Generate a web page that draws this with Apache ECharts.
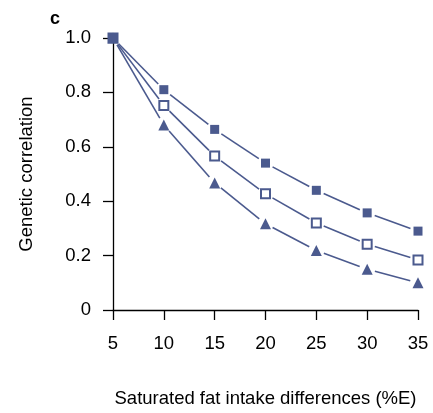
<!DOCTYPE html>
<html><head><meta charset="utf-8">
<script src="https://cdn.jsdelivr.net/npm/echarts@6/dist/echarts.min.js"></script>
<style>html,body{margin:0;padding:0;background:#fff}#c{width:433px;height:413px}</style>
</head><body><div id="c"></div>
<script>
const xValues = [5, 10, 15, 20, 25, 30, 35];
const filledSquare = [1.0, 0.81, 0.664, 0.54, 0.44, 0.357, 0.29];
const openSquare = [1.0, 0.752, 0.566, 0.427, 0.32, 0.242, 0.184];
const triangle = [1.0, 0.68, 0.467, 0.317, 0.219, 0.15, 0.10];
const yTicks = [0, 0.2, 0.4, 0.6, 0.8, 1.0];

const C = '#4b5a8e';
const FONT = 'Liberation Sans';
const GAP = 8;
const pts = arr => xValues.map((x, i) => [x, arr[i]]);
const seriesDefs = [
  {name: 'triangle', data: triangle, symbol: 'triangle', size: 11, fill: C, bw: 0},
  {name: 'open', data: openSquare, symbol: 'rect', size: 9, fill: '#fff', bw: 2},
  {name: 'filled', data: filledSquare, symbol: 'rect', size: 9, fill: C, bw: 0}
];
const series = [];
seriesDefs.forEach(d => {
  const p = pts(d.data);
  series.push({
    type: 'custom', name: d.name + 'L', data: p, silent: true, z: 2,
    encode: {x: 0, y: 1},
    renderItem: (params, api) => {
      const i = params.dataIndex;
      if (i >= p.length - 1) return null;
      const a = api.coord(p[i]);
      const b = api.coord(p[i + 1]);
      const dx = b[0] - a[0], dy = b[1] - a[1];
      const len = Math.sqrt(dx * dx + dy * dy);
      const ux = dx / len, uy = dy / len;
      return {
        type: 'line',
        shape: {x1: a[0] + ux * GAP, y1: a[1] + uy * GAP, x2: b[0] - ux * GAP, y2: b[1] - uy * GAP},
        style: {stroke: C, lineWidth: 1.6, fill: null}
      };
    }
  });
});
seriesDefs.forEach(d => {
  series.push({type: 'scatter', name: d.name + 'M', data: pts(d.data), symbol: d.symbol, symbolSize: d.size,
    itemStyle: {color: d.fill, borderColor: C, borderWidth: d.bw, opacity: 1}, z: 6, silent: true});
});

const chart = echarts.init(document.getElementById('c'), null, {renderer: 'canvas'});
chart.setOption({
  animation: false,
  backgroundColor: '#fff',
  title: {text: 'c', left: 45, top: 5, textStyle: {fontFamily: FONT, fontWeight: 'bold', fontSize: 18, color: '#000'}},
  grid: {left: 113, top: 38, right: 15, bottom: 101, containLabel: false},
  xAxis: {
    type: 'value', min: 5, max: 35, interval: 5,
    name: 'Saturated fat intake differences (%E)', nameLocation: 'middle', nameGap: 79,
    nameTextStyle: {fontFamily: FONT, fontSize: 18.5, color: '#000'},
    axisLine: {show: true, lineStyle: {color: '#000', width: 1.3}},
    axisTick: {show: true, length: 10, lineStyle: {color: '#000', width: 1.3}},
    axisLabel: {fontFamily: FONT, fontSize: 18.5, color: '#000', margin: 24},
    splitLine: {show: false}
  },
  yAxis: {
    type: 'value', min: 0, max: 1, interval: 0.2,
    name: 'Genetic correlation', nameLocation: 'middle', nameGap: 77,
    nameTextStyle: {fontFamily: FONT, fontSize: 18.5, color: '#000'},
    axisLine: {show: true, lineStyle: {color: '#000', width: 1.3}},
    axisTick: {show: true, length: 10, lineStyle: {color: '#000', width: 1.3}},
    axisLabel: {fontFamily: FONT, fontSize: 18.5, color: '#000', margin: 22,
      formatter: v => { const t = yTicks.find(k => Math.abs(k - v) < 1e-9); const val = t === undefined ? v : t; return val === 0 ? '0' : val.toFixed(1); }},
    splitLine: {show: false}
  },
  series: series
});
</script></body></html>
